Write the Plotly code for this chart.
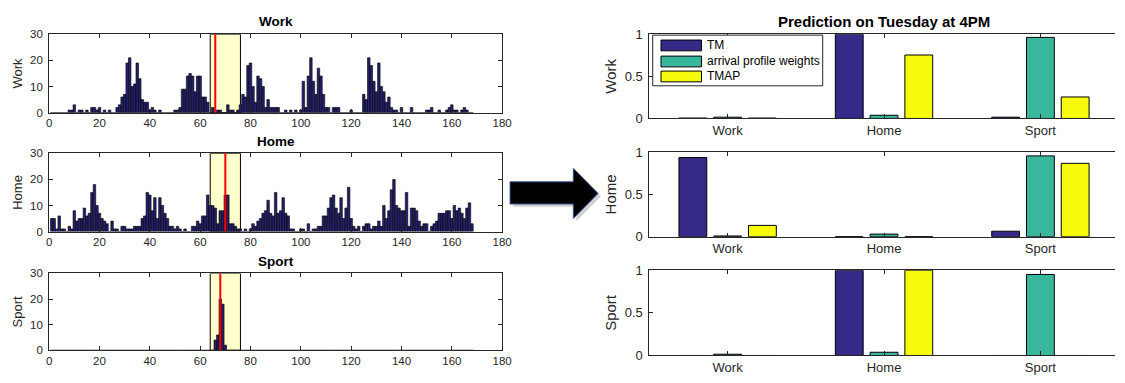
import plotly.graph_objects as go

# ---------------- data ----------------
hours = list(range(1, 169))

work_counts = [
    0, 0, 0, 0, 0, 0, 0, 1, 1, 3,
    0, 1, 1, 0, 1, 0, 2, 2, 1, 2,
    0, 1, 0, 1, 0, 0, 2, 3, 6, 7,
    19, 21, 10, 11, 19, 13, 5, 4, 4, 1,
    2, 1, 0, 1, 0, 0, 0, 0, 0, 1,
    1, 2, 9, 9, 14, 15, 14, 8, 14, 14,
    6, 6, 4, 0, 2, 0, 1, 1, 0, 0,
    3, 1, 1, 0, 1, 3, 7, 6, 18, 19,
    10, 4, 14, 13, 10, 2, 5, 2, 2, 2,
    2, 0, 0, 1, 0, 1, 0, 1, 0, 1,
    12, 2, 14, 21, 12, 7, 17, 14, 7, 2,
    2, 0, 2, 2, 2, 0, 0, 0, 0, 1,
    0, 0, 0, 0, 7, 5, 21, 18, 12, 8,
    19, 10, 8, 4, 6, 2, 1, 1, 0, 2,
    0, 0, 0, 2, 0, 0, 0, 0, 0, 1,
    1, 2, 0, 0, 1, 0, 0, 1, 2, 3,
    1, 1, 0, 1, 2, 1, 0, 0,
]

home_counts = [
    5, 5, 1, 6, 1, 1, 0, 2, 1, 8,
    4, 5, 5, 9, 6, 7, 15, 18, 10, 7,
    5, 4, 3, 0, 4, 1, 1, 0, 2, 2,
    1, 1, 1, 2, 2, 2, 5, 6, 15, 14,
    8, 13, 5, 13, 10, 7, 5, 2, 2, 1,
    2, 1, 0, 1, 0, 0, 2, 2, 4, 3,
    6, 6, 14, 10, 10, 9, 3, 8, 8, 14,
    14, 3, 3, 2, 1, 1, 0, 1, 0, 1,
    3, 2, 4, 5, 7, 8, 12, 7, 6, 15,
    7, 8, 13, 7, 6, 1, 1, 0, 0, 1,
    1, 0, 3, 0, 1, 1, 2, 2, 6, 6,
    9, 13, 14, 9, 7, 13, 5, 9, 17, 5,
    2, 1, 2, 0, 2, 3, 3, 1, 2, 2,
    4, 2, 10, 5, 8, 16, 20, 10, 9, 8,
    8, 15, 2, 9, 9, 8, 4, 2, 3, 3,
    0, 2, 3, 4, 7, 7, 7, 8, 8, 5,
    10, 8, 9, 7, 5, 9, 11, 3,
]

sport_counts = [
    0, 0, 0, 0, 0, 0, 0, 0, 0, 0,
    0, 0, 0, 0, 0, 0, 0, 0, 0, 0,
    0, 0, 0, 0, 0, 0, 0, 0, 0, 0,
    0, 0, 0, 0, 0, 0, 0, 0, 0, 0,
    0, 0, 0, 0, 0, 0, 0, 0, 0, 0,
    0, 0, 0, 0, 0, 0, 0, 0, 0, 0,
    0, 0, 0, 0, 0, 4, 6, 20, 18, 2,
    0, 0, 0, 0, 0, 0, 0, 0, 0, 0,
    0, 0, 0, 0, 0, 0, 0, 0, 0, 0,
    0, 0, 0, 0, 0, 0, 0, 0, 0, 0,
    0, 0, 0, 0, 0, 0, 0, 0, 0, 0,
    0, 0, 0, 0, 0, 0, 0, 0, 0, 0,
    0, 0, 0, 0, 0, 0, 0, 0, 0, 0,
    0, 0, 0, 0, 0, 0, 0, 0, 0, 0,
    0, 0, 0, 0, 0, 0, 0, 0, 0, 0,
    0, 0, 0, 0, 0, 0, 0, 0, 0, 0,
    0, 0, 0, 0, 0, 0, 0, 0,
]

profile_names = ["Work", "Home", "Sport"]
window_hours = [64, 76]          # prediction window
current_hours = [66, 70, 68]     # red marker per profile
hist_ticks = [0, 20, 40, 60, 80, 100, 120, 140, 160, 180]
hist_yticks = [0, 10, 20, 30]

categories = ["Work", "Home", "Sport"]
series_names = ["TM", "arrival profile weights", "TMAP"]

tm_work = [0.005, 1.0, 0.015]
apw_work = [0.015, 0.038, 0.962]
tmap_work = [0.005, 0.753, 0.255]

tm_home = [0.936, 0.0, 0.064]
apw_home = [0.008, 0.03, 0.955]
tmap_home = [0.133, 0.0, 0.867]

tm_sport = [0.0, 1.0, 0.0]
apw_sport = [0.015, 0.038, 0.951]
tmap_sport = [0.0, 1.0, 0.0]

pred_yticks = [0, 0.5, 1]
pred_yticklabels = ["0", "0.5", "1"]

# ---------------- style ----------------
W, H = 1125, 383
FONT = "Liberation Sans, Arial, Helvetica, sans-serif"
AX = "#262626"
HIST_FILL = "#25206b"
SERIES_COLORS = ["#352a87", "#38b79d", "#f8fa0d"]


def px_x(p):
    return p / W


def px_y(p):
    return 1 - p / H


fig = go.Figure()
shapes = []
annotations = []

# ---------- left: hourly histograms ----------
left_x_dom = [px_x(46.7), px_x(505)]
left_y_dom = [
    [px_y(110), px_y(28.3)],
    [px_y(233.7), px_y(152.3)],
    [px_y(357.3), px_y(277.3)],
]
left_title_y = [15, 140, 265]
counts_list = [work_counts, home_counts, sport_counts]

for i in range(3):
    n = "" if i == 0 else str(i + 1)
    fig.add_trace(go.Bar(
        x=hours, y=counts_list[i], width=1,
        marker=dict(color=HIST_FILL, line=dict(color="black", width=0.6)),
        xaxis="x" + n, yaxis="y" + n, showlegend=False,
        hovertemplate="hour %{x}: %{y}<extra></extra>",
    ))
    fig.add_trace(go.Scatter(
        x=[current_hours[i], current_hours[i]], y=[hist_yticks[0], hist_yticks[-1]],
        mode="lines", line=dict(color="#ff0000", width=2),
        xaxis="x" + n, yaxis="y" + n, showlegend=False, hoverinfo="skip",
    ))
    shapes.append(dict(
        type="rect", xref="x" + n, yref="y" + n,
        x0=window_hours[0], x1=window_hours[1],
        y0=hist_yticks[0], y1=hist_yticks[-1],
        fillcolor="#ffffcc", line=dict(color="black", width=1), layer="below",
    ))
    annotations.append(dict(
        text="<b>%s</b>" % profile_names[i], x=(left_x_dom[0] + left_x_dom[1]) / 2,
        y=px_y(left_title_y[i]), xref="paper", yref="paper",
        showarrow=False, font=dict(family=FONT, size=13.5, color="black"),
        xanchor="center", yanchor="middle",
    ))
    fig.update_layout(**{
        "xaxis" + n: dict(
            domain=left_x_dom, range=[0, 180], tickvals=hist_ticks,
            ticks="inside", ticklen=4, tickcolor=AX, tickwidth=1,
            showline=True, linecolor=AX, linewidth=1, mirror="ticks",
            showgrid=False, zeroline=False, anchor="y" + n,
            tickfont=dict(family=FONT, size=11.5, color=AX),
        ),
        "yaxis" + n: dict(
            domain=left_y_dom[i], range=[0, 30], tickvals=hist_yticks,
            ticks="inside", ticklen=4, tickcolor=AX, tickwidth=1,
            showline=True, linecolor=AX, linewidth=1, mirror="ticks",
            showgrid=False, zeroline=False, anchor="x" + n,
            ticklabelstandoff=3,
            tickfont=dict(family=FONT, size=11.5, color=AX),
            title=dict(text=profile_names[i], font=dict(family=FONT, size=13, color=AX), standoff=4),
        ),
    })

# ---------- right: prediction bars ----------
right_x_dom = [px_x(654), 1.0]
right_y_dom = [
    [px_y(116), px_y(28.3)],
    [px_y(239), px_y(151)],
    [px_y(362.7), px_y(274)],
]
panels = [
    [tm_work, apw_work, tmap_work],
    [tm_home, apw_home, tmap_home],
    [tm_sport, apw_sport, tmap_sport],
]
cat_pos = [1, 2, 3]

for j in range(3):
    n = str(j + 4)
    for k in range(3):
        fig.add_trace(go.Bar(
            x=cat_pos, y=panels[j][k], name=series_names[k],
            marker=dict(color=SERIES_COLORS[k], line=dict(color="black", width=1)),
            xaxis="x" + n, yaxis="y" + n, showlegend=False,
            legendgroup=series_names[k],
            hovertemplate=series_names[k] + ": %{y}<extra></extra>",
        ))
    fig.update_layout(**{
        "xaxis" + n: dict(
            domain=right_x_dom, range=[0.5, 3.477], tickvals=cat_pos, ticktext=categories,
            ticks="inside", ticklen=4, tickcolor=AX, tickwidth=1,
            showline=True, linecolor=AX, linewidth=1, mirror="ticks",
            showgrid=False, zeroline=False, anchor="y" + n,
            tickfont=dict(family=FONT, size=13, color=AX),
        ),
        "yaxis" + n: dict(
            domain=right_y_dom[j], range=[0, 1], tickvals=pred_yticks, ticktext=pred_yticklabels,
            ticks="inside", ticklen=4, tickcolor=AX, tickwidth=1,
            showline=True, linecolor=AX, linewidth=1, mirror=False,
            showgrid=False, zeroline=False, anchor="x" + n,
            ticklabelstandoff=3,
            tickfont=dict(family=FONT, size=13, color=AX),
            title=dict(text=profile_names[j], font=dict(family=FONT, size=15, color=AX), standoff=4),
        ),
    })

annotations.append(dict(
    text="<b>Prediction on Tuesday at 4PM</b>", x=px_x((654 + 1129) / 2), y=px_y(15.5),
    xref="paper", yref="paper", showarrow=False,
    font=dict(family=FONT, size=15, color="black"), xanchor="center", yanchor="middle",
))

# legend box (MATLAB style wide swatches) in the first prediction panel
shapes.append(dict(type="rect", xref="paper", yref="paper",
                   x0=px_x(657.3), x1=px_x(829.3), y0=px_y(82), y1=px_y(29.3),
                   fillcolor="white", line=dict(color=AX, width=1), layer="above"))
legend_rows_y = [40, 56.7, 72.3]
for k in range(3):
    yc = legend_rows_y[k]
    shapes.append(dict(type="rect", xref="paper", yref="paper",
                       x0=px_x(665.7), x1=px_x(706.7), y0=px_y(yc + 5.6), y1=px_y(yc - 5.6),
                       fillcolor=SERIES_COLORS[k], line=dict(color="black", width=1), layer="above"))
    annotations.append(dict(
        text=series_names[k], x=px_x(710.5), y=px_y(yc), xref="paper", yref="paper",
        showarrow=False, xanchor="left", yanchor="middle",
        font=dict(family=FONT, size=12, color="black"),
    ))

# arrow between the two columns
arrow_pts = [(513, 182), (577, 182), (577, 168), (602, 194), (577, 220), (577, 205), (513, 205)]


def path_from(pts, dx=0, dy=0):
    s = "M " + " L ".join("%.5f,%.5f" % (px_x(x + dx), px_y(y + dy)) for x, y in pts)
    return s + " Z"


shapes.append(dict(type="path", xref="paper", yref="paper", path=path_from(arrow_pts, 3, 3),
                   fillcolor="rgba(0,0,0,0.18)", line=dict(width=0), layer="above"))
shapes.append(dict(type="path", xref="paper", yref="paper", path=path_from(arrow_pts),
                   fillcolor="black", line=dict(color="#2d4f8e", width=1), layer="above"))

fig.update_layout(
    width=W, height=H, autosize=False,
    margin=dict(l=0, r=0, t=0, b=0),
    paper_bgcolor="white", plot_bgcolor="white",
    barmode="group", bargap=0.333, bargroupgap=0.2,
    font=dict(family=FONT, size=11, color=AX),
    shapes=shapes, annotations=annotations,
    showlegend=False,
)

fig.write_html("out.html", config={"displayModeBar": False})
